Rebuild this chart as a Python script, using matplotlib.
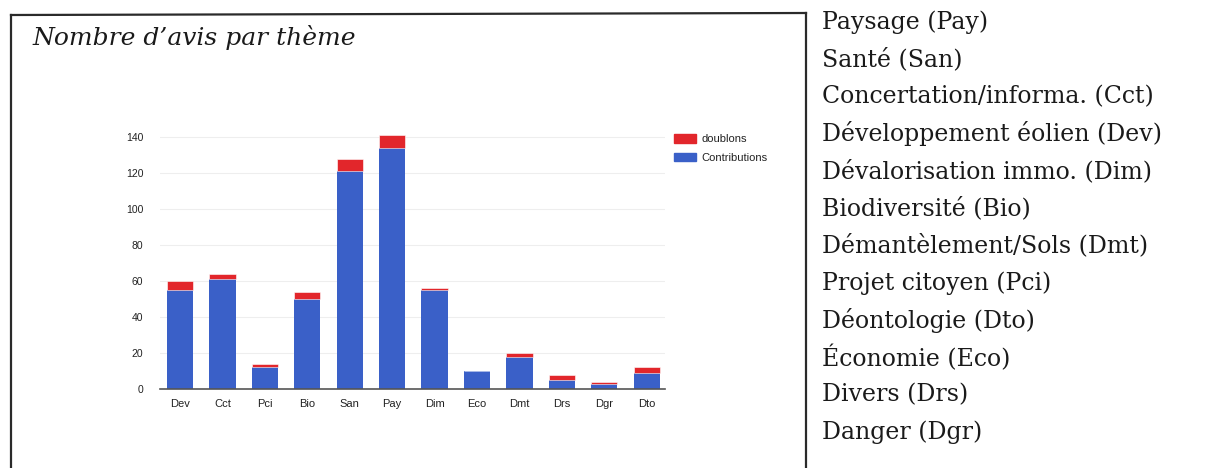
import matplotlib
matplotlib.use("Agg")
import matplotlib.pyplot as plt
from matplotlib.lines import Line2D
from matplotlib.patches import Patch

# Themes (abbreviations) and counts per theme
themes = ["Dev", "Cct", "Pci", "Bio", "San", "Pay", "Dim", "Eco", "Dmt", "Drs", "Dgr", "Dto"]
contributions = [55, 61, 12, 50, 121, 134, 55, 10, 18, 5, 3, 9]
doublons = [5, 3, 2, 4, 7, 7, 1, 0, 2, 3, 1, 3]
y_ticks = [0, 20, 40, 60, 80, 100, 120, 140]

title = "Nombre d\u2019avis par th\u00e8me"
glossary = [
    "Paysage (Pay)",
    "Sant\u00e9 (San)",
    "Concertation/informa. (Cct)",
    "D\u00e9veloppement \u00e9olien (Dev)",
    "D\u00e9valorisation immo. (Dim)",
    "Biodiversit\u00e9 (Bio)",
    "D\u00e9mant\u00e8lement/Sols (Dmt)",
    "Projet citoyen (Pci)",
    "D\u00e9ontologie (Dto)",
    "\u00c9conomie (Eco)",
    "Divers (Drs)",
    "Danger (Dgr)",
]

W, H = 1222, 468
BLUE = "#3a60c8"
RED = "#e2262b"

fig = plt.figure(figsize=(W / 100, H / 100), dpi=100)
fig.patch.set_facecolor("white")


def fx(px):
    return px / W


def fy(py):
    return 1 - py / H


# Frame around the chart panel
frame_kw = dict(color="#2a2a2a", lw=1.6, transform=fig.transFigure)
fig.add_artist(Line2D([fx(11), fx(806)], [fy(15), fy(13)], **frame_kw))
fig.add_artist(Line2D([fx(11), fx(11)], [fy(15), fy(470)], **frame_kw))
fig.add_artist(Line2D([fx(806), fx(806)], [fy(13), fy(470)], **frame_kw))

fig.text(fx(32), fy(38), title, family="DejaVu Serif", style="italic",
         fontsize=18, color="#1a1a1a", va="center", ha="left")

# Bar chart
ax = fig.add_axes([fx(160), fy(389), fx(665) - fx(160), fy(119) - fy(389)])
x = list(range(len(themes)))
ax.bar(x, contributions, width=0.62, color=BLUE, label="Contributions", zorder=3)
ax.bar(x, doublons, width=0.62, bottom=contributions, color=RED,
       label="doublons", zorder=3, edgecolor="white", linewidth=0.4)

ax.set_xlim(-0.47, len(themes) - 0.57)
ax.set_ylim(0, 150)
ax.set_yticks(y_ticks)
ax.set_xticks(x)
ax.set_xticklabels(themes)
ax.tick_params(axis="both", length=0, colors="#222222", labelsize=7.5)
ax.tick_params(axis="x", pad=7, labelsize=8)
ax.tick_params(axis="y", pad=12)
for lab in ax.get_xticklabels() + ax.get_yticklabels():
    lab.set_family("Liberation Sans")
ax.grid(axis="y", color="#eeeeee", lw=0.8, zorder=0)
for side in ("top", "right", "left"):
    ax.spines[side].set_visible(False)
ax.spines["bottom"].set_color("#555555")
ax.spines["bottom"].set_linewidth(1.2)
ax.spines["bottom"].set_zorder(4)

handles = [Patch(color=RED, label="doublons"), Patch(color=BLUE, label="Contributions")]
fig.legend(handles=handles, loc="upper left", bbox_to_anchor=(fx(664), fy(124)),
           frameon=False, prop={"family": "Liberation Sans", "size": 8},
           handlelength=2.0, handleheight=0.85, handletextpad=0.5,
           labelspacing=0.75, labelcolor="#222222")

# Glossary of abbreviations
y0, step = 22, 37.3
for i, line in enumerate(glossary):
    fig.text(fx(822), fy(y0 + i * step), line, family="DejaVu Serif",
             fontsize=17, color="#1a1a1a", va="center", ha="left")

fig.savefig("out.png", dpi=100, facecolor="white")
